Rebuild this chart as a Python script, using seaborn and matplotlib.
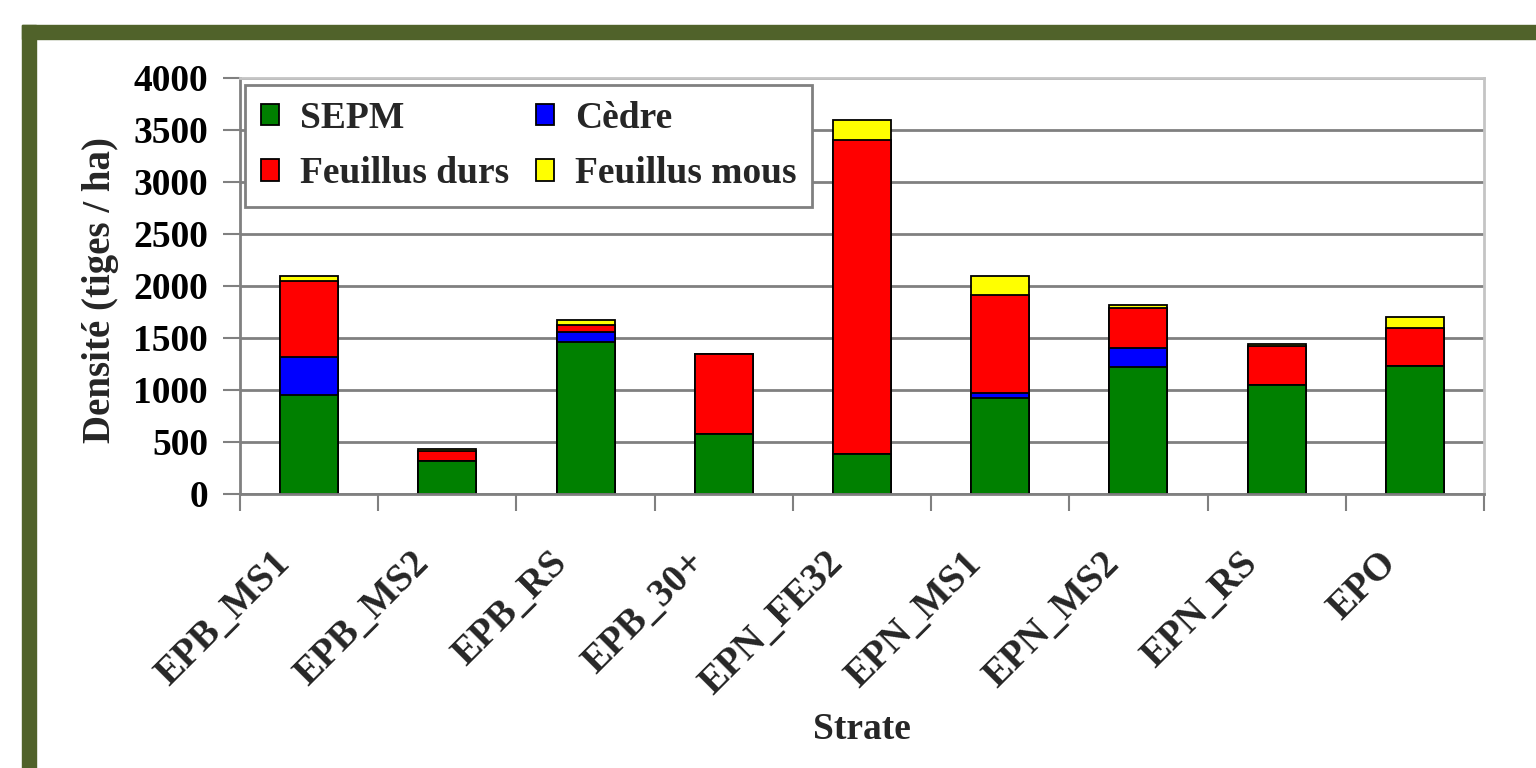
import matplotlib
matplotlib.use("Agg")
import matplotlib.pyplot as plt
from matplotlib.patches import Rectangle
from matplotlib.transforms import ScaledTranslation
import numpy as np
import seaborn as sns

# Stand density by stratum, stacked by species group (stems / ha)
strates = ["EPB_MS1", "EPB_MS2", "EPB_RS", "EPB_30+", "EPN_FE32",
           "EPN_MS1", "EPN_MS2", "EPN_RS", "EPO"]
sepm = [950, 315, 1460, 580, 385, 920, 1220, 1050, 1230]
cedre = [370, 0, 95, 0, 0, 50, 180, 0, 0]
feuillus_durs = [725, 95, 65, 770, 3015, 940, 385, 370, 365]
feuillus_mous = [55, 20, 50, 0, 200, 190, 35, 20, 110]

series_names = ["SEPM", "Cèdre", "Feuillus durs", "Feuillus mous"]
series_colors = ["#008000", "#0000FF", "#FF0000", "#FFFF00"]
y_ticks = [0, 500, 1000, 1500, 2000, 2500, 3000, 3500, 4000]

sns.set_theme(style="white")
plt.rcParams["font.family"] = ["Liberation Serif", "DejaVu Serif"]
plt.rcParams["font.weight"] = "bold"

FS = 27
GRAY = "#808080"

fig = plt.figure(figsize=(15.36, 7.68), dpi=100)
fig.patch.set_facecolor("white")
ax = fig.add_axes([0.15625, 0.3568, 0.8099, 0.5417])

# Stacked bars: draw cumulative totals from the top segment down
stack = np.cumsum([sepm, cedre, feuillus_durs, feuillus_mous], axis=0)
handles = {}
for i in range(3, -1, -1):
    sns.barplot(x=strates, y=stack[i], color=series_colors[i], saturation=1,
                width=0.42, edgecolor="black", linewidth=1.3, ax=ax)
    handles[series_names[i]] = ax.containers[-1]

ax.set_xlim(-0.5, len(strates) - 0.5)
ax.set_ylim(0, 4000)
ax.set_yticks(y_ticks)
ax.set_yticklabels([str(v) for v in y_ticks], fontsize=FS, fontweight="bold")

ax.yaxis.grid(True, color=GRAY, linewidth=2)
ax.set_axisbelow(True)

for side in ["left", "bottom"]:
    ax.spines[side].set_color(GRAY)
    ax.spines[side].set_linewidth(2)
for side in ["top", "right"]:
    ax.spines[side].set_color("#C4C4C4")
    ax.spines[side].set_linewidth(2)

ax.tick_params(axis="y", left=True, length=12, width=1.5, color=GRAY, pad=11,
               labelcolor="black")

# Category labels at bar centres, tick marks between categories
ax.set_xticks(range(len(strates)))
ax.set_xticks(np.arange(-0.5, len(strates), 1), minor=True)
ax.tick_params(axis="x", which="major", bottom=True, length=0, pad=0)
ax.tick_params(axis="x", which="minor", bottom=True, length=12, width=1.5,
               color=GRAY)
ax.set_xticklabels(strates, rotation=45, ha="right", va="center",
                   rotation_mode="anchor", fontsize=FS + 1, fontweight="bold")
shift = ScaledTranslation(-0.24, -0.64, fig.dpi_scale_trans)
for lab in ax.get_xticklabels():
    lab.set_transform(lab.get_transform() + shift)

ax.set_xlabel("Strate", fontsize=FS, fontweight="bold")
ax.set_ylabel("Densité (tiges / ha)", fontsize=FS + 1, fontweight="bold")
ax.xaxis.set_label_coords(0.5, -0.525)
ax.yaxis.set_label_coords(-0.097, 0.49)

order = ["SEPM", "Feuillus durs", "Cèdre", "Feuillus mous"]
leg = ax.legend([handles[n] for n in order], order, ncol=2, loc="upper left",
                bbox_to_anchor=(0.004, 0.983, 0.456, 0.0), mode="expand",
                borderaxespad=0,
                prop={"size": FS, "weight": "bold"}, frameon=True,
                fancybox=False, framealpha=1, edgecolor=GRAY,
                handlelength=0.5, handleheight=0.5, handletextpad=0.55,
                columnspacing=0.2, labelspacing=0.55, borderpad=0.42)
leg.get_frame().set_linewidth(2)

# Olive page frame
olive = "#50622A"
fig.patches.append(Rectangle((0.0143, 0.0), 0.0091, 0.967,
                             transform=fig.transFigure, color=olive, zorder=-1))
fig.patches.append(Rectangle((0.0143, 0.949), 1.0, 0.018,
                             transform=fig.transFigure, color=olive, zorder=-1))

fig.savefig("out.png", dpi=100)
